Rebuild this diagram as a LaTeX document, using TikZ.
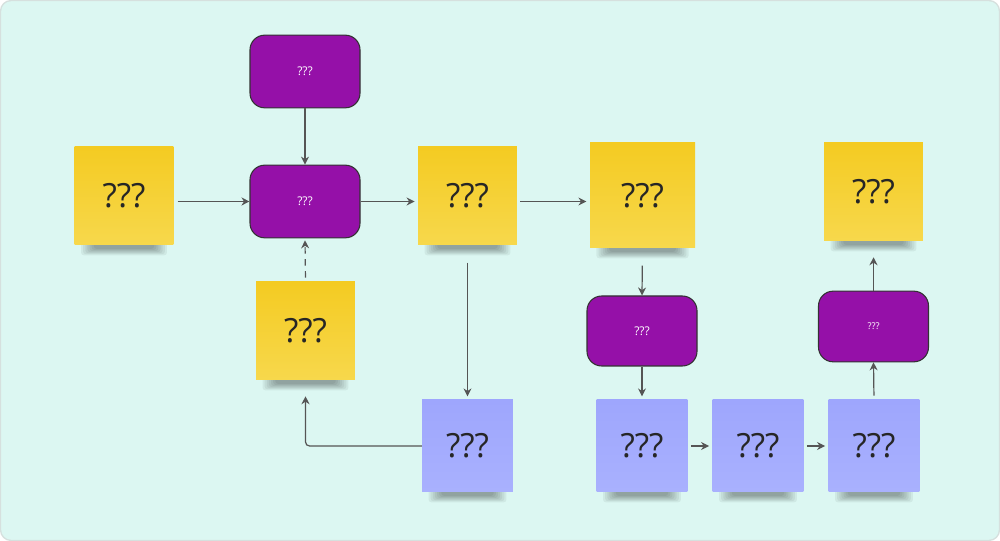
\documentclass[tikz,border=0pt]{standalone}
\usepackage{fontspec}
\setmainfont{Open Sans}
\usetikzlibrary{arrows.meta}
\definecolor{bg}{HTML}{DCF7F2}
\definecolor{bgline}{HTML}{D6E0DE}
\definecolor{ytop}{HTML}{F4CB22}
\definecolor{ybot}{HTML}{F7D84C}
\definecolor{btop}{HTML}{9EA6FD}
\definecolor{bbot}{HTML}{A9B1FE}
\definecolor{purp}{HTML}{9510A8}
\definecolor{lin}{HTML}{555555}
\pgfdeclarelayer{bglayer}
\pgfdeclarelayer{shlayer}
\pgfsetlayers{bglayer,shlayer,main}
\tikzset{
  sticky/.style={inner sep=0pt, font=\fontsize{25}{30}\selectfont, text=black!85},
  ynote/.style={sticky, top color=ytop, bottom color=ybot, minimum width=74pt, minimum height=73.5pt},
  bnote/.style={sticky, top color=btop, bottom color=bbot, minimum width=68pt, minimum height=69pt},
  pbox/.style={draw=black!80, line width=0.8pt, fill=purp, rounded corners=11pt, text=white, font=\fontsize{9}{11}\selectfont, minimum width=82.5pt, minimum height=54.5pt, inner sep=0pt},
  conn/.style={draw=lin, line width=0.9pt, -{Stealth[length=6pt,width=6pt]}},
  dconn/.style={conn, dash pattern=on 5pt off 4pt},
}
\newcommand{\shadowunder}[1]{%
  \foreach \i in {0,...,6}{
    \pgfmathsetmacro{\ax}{5+\i*1.6}
    \pgfmathsetmacro{\by}{7.5-\i*0.8}
    \fill[black, opacity=0.055, rounded corners=2pt] ([xshift=\ax pt, yshift=3pt]#1.south west) rectangle ([xshift=-\ax pt, yshift=-\by pt]#1.south east);
  }%
}
\begin{document}
\begin{tikzpicture}[x=0.75pt,y=-0.75pt]
\useasboundingbox (0,0) rectangle (1000,541);
\begin{pgfonlayer}{bglayer}
\filldraw[fill=bg, draw=bgline, line width=1pt, rounded corners=8pt] (0.5,0.5) rectangle (999.5,540.5);
\end{pgfonlayer}

% nodes
\node[ynote] (y1) at (124,196) {???};
\node[ynote] (y2) at (467.5,196) {???};
\node[ynote, minimum width=78.75pt, minimum height=78.75pt] (y3) at (642.5,195.5) {???};
\node[ynote] (y4) at (873.5,192) {???};
\node[ynote] (y5) at (305.5,331) {???};
\node[bnote] (b1) at (467.5,446) {???};
\node[bnote] (b2) at (642,446) {???};
\node[bnote] (b3) at (758,446) {???};
\node[bnote] (b4) at (874,446) {???};
\node[pbox] (pa) at (305,71.5) {???};
\node[pbox] (pb) at (305,201.5) {???};
\node[pbox, minimum height=52.5pt] (pc) at (642,331) {???};
\node[pbox, minimum height=53pt, font=\fontsize{7}{9}\selectfont] (pd) at (873.5,326.5) {???};

% shadows
\begin{pgfonlayer}{shlayer}
\shadowunder{y1}\shadowunder{y2}\shadowunder{y3}\shadowunder{y4}\shadowunder{y5}
\shadowunder{b1}\shadowunder{b2}\shadowunder{b3}\shadowunder{b4}
\end{pgfonlayer}

% connectors
\draw[conn, shorten <=3pt] (y1.east |- pb.west) -- (pb.west);
\draw[conn] (pa.south) -- (pb.north);
\draw[conn, shorten >=2.5pt] (pb.east) -- (y2.west |- pb.east);
\draw[conn, shorten <=2.5pt, shorten >=2.5pt] (y2.east |- pb.east) -- (y3.west |- pb.east);
\draw[dconn, shorten <=3pt, shorten >=1.5pt] (y5.north) -- (pb.south);
\draw[conn, shorten <=13pt, shorten >=2.5pt] (y2.south) -- (b1.north);
\draw[conn, rounded corners=3pt, shorten >=12pt] (b1.west) -- (y5.south |- b1.west) -- (y5.south);
\draw[conn, shorten <=13pt] (y3.south) -- (pc.north);
\draw[conn, shorten >=2.5pt] (pc.south) -- (b2.north);
\draw[conn, shorten <=2.5pt, shorten >=2.5pt] (b2.east) -- (b3.west);
\draw[conn, shorten <=2.5pt, shorten >=2.5pt] (b3.east) -- (b4.west);
\draw[conn, shorten <=3pt] (b4.north) -- (pd.south);
\draw[conn, shorten >=12pt] (pd.north) -- (y4.south);
\end{tikzpicture}
\end{document}
